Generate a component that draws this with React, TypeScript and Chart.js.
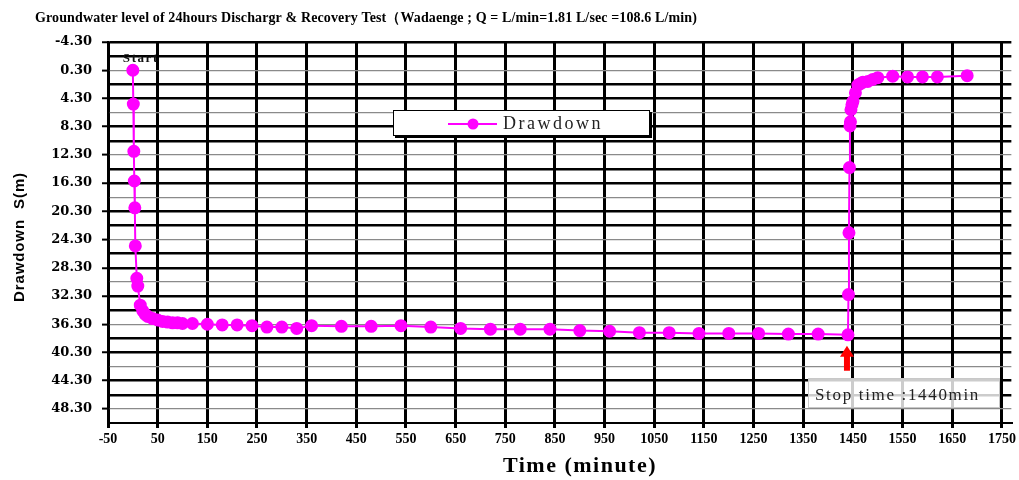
import React, { useEffect, useRef } from 'react';
import { Chart, registerables } from 'chart.js';

Chart.register(...registerables);

// ---- data ----
const timeMin = [
  0, 1, 2, 3, 4, 5, 8, 10, 15, 20, 25, 30, 40, 50, 60, 70, 80, 90, 100, 120, 150, 180, 210,
  240, 270, 300, 330, 360, 420, 480, 540, 600, 660, 720, 780, 840, 900, 960, 1020, 1080,
  1140, 1200, 1260, 1320, 1380, 1440,
  1441, 1442, 1443, 1444, 1445, 1446, 1448, 1450, 1455, 1460, 1465, 1470, 1480, 1490, 1500,
  1530, 1560, 1590, 1620, 1680,
];
const drawdown = [
  0.3, 5.1, 11.8, 16.0, 19.8, 25.2, 29.8, 30.9, 33.6, 34.4, 34.9, 35.2, 35.5, 35.7, 35.9, 36.0,
  36.1, 36.1, 36.2, 36.2, 36.3, 36.4, 36.4,
  36.5, 36.7, 36.7, 36.9, 36.5, 36.6, 36.6, 36.5, 36.7, 36.9, 37.0, 37.0, 37.0, 37.2, 37.3,
  37.5, 37.5, 37.6, 37.6, 37.6, 37.7, 37.7, 37.8,
  32.1, 23.35, 14.1, 8.2, 7.6, 5.9, 5.2, 4.7, 3.5, 2.4, 2.2, 2.0, 1.9, 1.6, 1.35,
  1.15, 1.25, 1.25, 1.25, 1.07,
];

const xTickValues = [
  -50, 50, 150, 250, 350, 450, 550, 650, 750, 850, 950, 1050, 1150, 1250, 1350, 1450, 1550, 1650, 1750,
];
const xTickLabels = [
  '-50', '50', '150', '250', '350', '450', '550', '650', '750', '850', '950', '1050', '1150',
  '1250', '1350', '1450', '1550', '1650', '1750',
];
const yTickValues = [
  -3.7, -1.7, 0.3, 2.3, 4.3, 6.3, 8.3, 10.3, 12.3, 14.3, 16.3, 18.3, 20.3, 22.3, 24.3, 26.3,
  28.3, 30.3, 32.3, 34.3, 36.3, 38.3, 40.3, 42.3, 44.3, 46.3, 48.3,
];
const yTickLabels = [
  '-4.30', '0.30', '4.30', '8.30', '12.30', '16.30', '20.30', '24.30', '28.30', '32.30', '36.30',
  '40.30', '44.30', '48.30',
];

const chartTitle =
  'Groundwater level of 24hours Dischargr & Recovery Test（Wadaenge ; Q = L/min=1.81 L/sec =108.6 L/min)';
const seriesName = 'Drawdown';
const xTitle = 'Time (minute)';
const yTitle = 'Drawdown  S(m)';
const startLabel = 'Start';
const stopLabel = 'Stop time :1440min';
const stopTime = 1440;

const MAGENTA = '#FF00FF';

function yIndex(v: number): number {
  return yTickValues.findIndex((t) => Math.abs(t - v) < 1e-6);
}

function fitText(
  ctx: CanvasRenderingContext2D,
  text: string,
  x: number,
  y: number,
  width: number,
  font: string,
  align: 'left' | 'center',
  color: string
) {
  ctx.font = font;
  (ctx as any).letterSpacing = '0px';
  const w = ctx.measureText(text).width;
  const ls = (width - w) / Math.max(text.length, 1);
  (ctx as any).letterSpacing = ls + 'px';
  ctx.textAlign = 'left';
  ctx.textBaseline = 'middle';
  ctx.fillStyle = color;
  const sx = align === 'center' ? x - width / 2 : x;
  ctx.fillText(text, sx, y);
  (ctx as any).letterSpacing = '0px';
}

const overlayPlugin = {
  id: 'overlayPlugin',
  afterDraw(chart: any) {
    const { ctx, scales } = chart;
    const xs = scales.x;
    const ys = scales.y;
    ctx.save();

    // chart title
    fitText(ctx, chartTitle, 35, 18, 662, 'bold 14px "Liberation Serif", serif', 'left', '#000');

    // axis titles
    fitText(ctx, xTitle, 580, 466, 154, 'bold 22px "Liberation Serif", serif', 'center', '#000');
    ctx.save();
    ctx.translate(20, 237);
    ctx.rotate(-Math.PI / 2);
    fitText(ctx, yTitle, 0, 0, 130, 'bold 15px "Liberation Sans", sans-serif', 'center', '#000');
    ctx.restore();

    // Start label
    const sx = xs.getPixelForValue(timeMin[0]);
    const sy = ys.getPixelForValue(drawdown[0]);
    fitText(ctx, startLabel, sx - 10, sy - 12, 36, 'bold 13px "Liberation Serif", serif', 'left', '#111');

    // legend box
    ctx.fillStyle = '#fff';
    ctx.fillRect(393, 110, 257, 27);
    ctx.fillStyle = '#000';
    ctx.fillRect(395, 135, 257, 3);
    ctx.fillRect(649, 112, 3, 26);
    ctx.strokeStyle = '#000';
    ctx.lineWidth = 1;
    ctx.strokeRect(393.5, 110.5, 256, 25);
    ctx.strokeStyle = MAGENTA;
    ctx.lineWidth = 2;
    ctx.beginPath();
    ctx.moveTo(448, 124);
    ctx.lineTo(497, 124);
    ctx.stroke();
    ctx.fillStyle = MAGENTA;
    ctx.beginPath();
    ctx.arc(473, 124, 5.5, 0, Math.PI * 2);
    ctx.fill();
    fitText(ctx, seriesName, 503, 124, 100, '18px "Liberation Serif", serif', 'left', '#222');

    // stop-time arrow and box
    const px = xs.getPixelForValue(stopTime);
    const stopIdx = timeMin.indexOf(stopTime);
    const py = ys.getPixelForValue(drawdown[stopIdx]);
    const tipY = py + 11;
    ctx.fillStyle = '#FF0000';
    ctx.beginPath();
    ctx.moveTo(px - 1, tipY);
    ctx.lineTo(px + 6, tipY + 11);
    ctx.lineTo(px + 2, tipY + 11);
    ctx.lineTo(px + 2, tipY + 25);
    ctx.lineTo(px - 4, tipY + 25);
    ctx.lineTo(px - 4, tipY + 11);
    ctx.lineTo(px - 8, tipY + 11);
    ctx.closePath();
    ctx.fill();

    ctx.fillStyle = 'rgba(255,255,255,0.8)';
    ctx.fillRect(808, 378, 192, 30);
    ctx.strokeStyle = '#c8c8c8';
    ctx.lineWidth = 1;
    ctx.strokeRect(808.5, 378.5, 191, 29);
    fitText(ctx, stopLabel, 815, 396, 165, '17px "Liberation Serif", serif', 'left', '#222');

    ctx.restore();
  },
};

export default function App() {
  const canvasRef = useRef<HTMLCanvasElement | null>(null);

  useEffect(() => {
    const canvas = canvasRef.current;
    if (!canvas) return;
    const points = timeMin.map((t, i) => ({ x: t, y: drawdown[i] }));
    const chart = new Chart(canvas, {
      type: 'line',
      data: {
        datasets: [
          {
            label: seriesName,
            data: points,
            borderColor: MAGENTA,
            backgroundColor: MAGENTA,
            pointBackgroundColor: MAGENTA,
            pointBorderColor: MAGENTA,
            pointRadius: 5.5,
            pointHoverRadius: 5.5,
            borderWidth: 2,
            tension: 0,
          },
        ],
      },
      options: {
        animation: false,
        responsive: false,
        events: [],
        layout: { padding: { top: 42, right: 5, left: 0, bottom: 0 } },
        plugins: {
          legend: { display: false },
          tooltip: { enabled: false },
          title: { display: false },
        },
        scales: {
          x: {
            type: 'linear',
            min: -50,
            max: 1769,
            afterBuildTicks: (axis: any) => {
              axis.ticks = xTickValues.map((v) => ({ value: v }));
            },
            afterFit: (axis: any) => {
              axis.height = 57;
            },
            grid: {
              color: '#000',
              lineWidth: 3,
              tickLength: 5,
              tickColor: '#000',
            },
            border: { display: true, color: '#000', width: 2 },
            ticks: {
              autoSkip: false,
              maxRotation: 0,
              padding: 3,
              color: '#000',
              font: { family: '"Liberation Serif", serif', size: 14, weight: 'bold' },
              callback: (value: any) => {
                const i = xTickValues.indexOf(Number(value));
                return i >= 0 ? xTickLabels[i] : '';
              },
            },
          },
          y: {
            type: 'linear',
            reverse: true,
            min: -3.7,
            max: 50.3,
            afterBuildTicks: (axis: any) => {
              axis.ticks = yTickValues.map((v) => ({ value: v }));
            },
            afterFit: (axis: any) => {
              axis.width = 108;
            },
            grid: {
              color: (c: any) => {
                const i = yIndex(c.tick ? c.tick.value : 0);
                return i % 3 === 2 ? '#8a8a8a' : '#000';
              },
              lineWidth: (c: any) => {
                const i = yIndex(c.tick ? c.tick.value : 0);
                return i % 3 === 2 ? 1.2 : 2.5;
              },
              tickLength: 6,
              tickWidth: 2,
              tickColor: (c: any) => {
                const i = yIndex(c.tick ? c.tick.value : 0);
                return i % 2 === 0 ? '#000' : 'rgba(0,0,0,0)';
              },
            },
            border: { display: true, color: '#000', width: 2.5 },
            ticks: {
              autoSkip: false,
              padding: 10,
              color: '#000',
              font: { family: '"DejaVu Serif", serif', size: 13, weight: 'bold' },
              callback: (value: any) => {
                const i = yIndex(Number(value));
                return i >= 0 && i % 2 === 0 ? yTickLabels[i / 2] : '';
              },
            },
          },
        },
      },
      plugins: [overlayPlugin],
    } as any);
    return () => {
      chart.destroy();
    };
  }, []);

  return (
    <div style={{ position: 'absolute', left: 0, top: 0, width: 1019, height: 480, background: '#fff' }}>
      <canvas ref={canvasRef} width={1019} height={480} style={{ display: 'block' }} />
    </div>
  );
}
